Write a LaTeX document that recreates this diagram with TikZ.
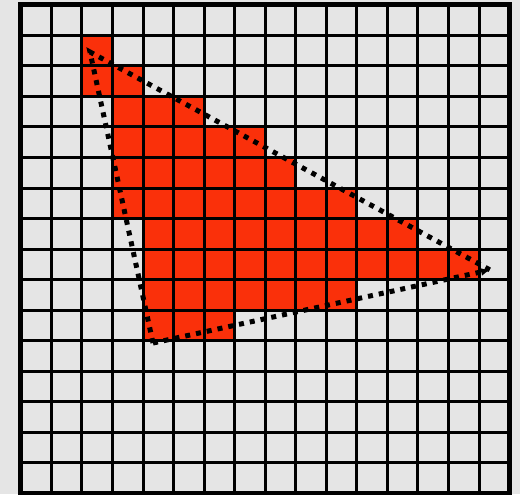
\documentclass[tikz,border=0pt]{standalone}
\usetikzlibrary{arrows.meta}
\definecolor{cellgray}{RGB}{229,229,229}
\definecolor{fillred}{RGB}{250,48,10}

\begin{document}
\begin{tikzpicture}[x=30.55pt,y=30.55pt,
    tri/.style={line width=5pt, dash pattern=on 5pt off 6pt}]
  \fill[cellgray] (-0.681,-0.016) rectangle (16.34,16.154);
  \useasboundingbox (-0.681,-0.016) rectangle (16.34,16.154);

  % covered cells, row by row from the top
  \foreach \r/\a/\b in {1/2/2, 2/2/3, 3/3/5, 4/3/7, 5/3/8,
                        6/3/10, 7/4/12, 8/4/14, 9/4/10, 10/4/6}
    \fill[fillred] (\a,15-\r) rectangle (\b+1,16-\r);

  \draw[line width=3pt, step=1] (0,0) grid (16,16);
  \draw[line width=5pt] (0,0) rectangle (16,16);

  \coordinate (A) at (2.265,14.452);
  \coordinate (B) at (15.36,7.316);
  \coordinate (C) at (4.327,4.926);
  \draw[tri] (C) -- (A) -- (B);
  \draw[tri,-{Latex[length=9pt,width=8pt]}] (C) -- (B);
\end{tikzpicture}
\end{document}
